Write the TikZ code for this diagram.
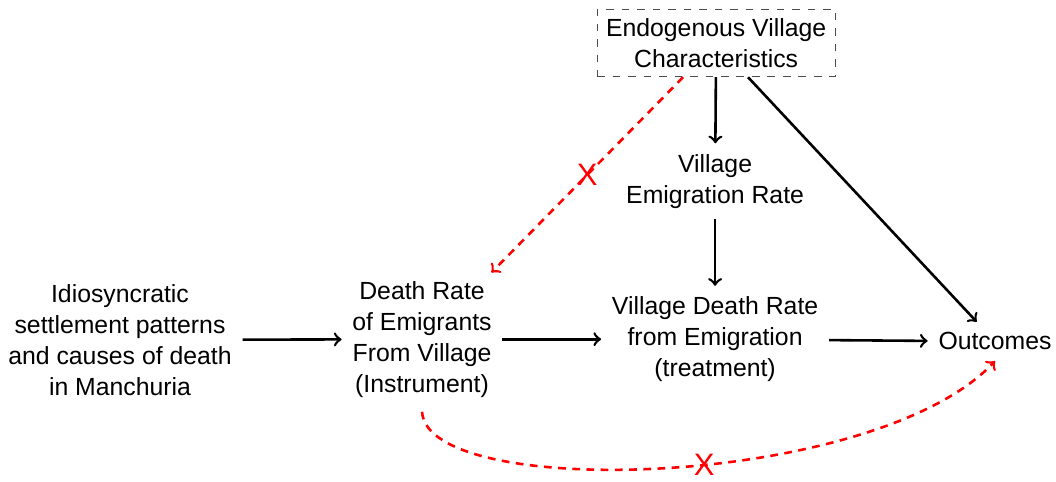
\documentclass[tikz,border=0pt]{standalone}
\usepackage{fontspec}
\setmainfont{Liberation Sans}
\begin{document}
\begin{tikzpicture}[
    var/.style={align=center, inner sep=4pt, font=\fontsize{9.6pt}{12pt}\selectfont},
    confound/.style={var, draw=black!70, dashed, inner sep=3.5pt},
    causal/.style={->, line width=1pt},
    blocked/.style={->, line width=1pt, red, dash pattern=on 3pt off 2.5pt},
    cross/.style={text=red, font=\large, inner sep=0pt}
]
    \useasboundingbox (0,0) rectangle (14.37,6.546);
    \node[var] (idio) at (1.633,1.92) {Idiosyncratic\\settlement patterns\\and causes of death\\in Manchuria};
    \node[var] (inst) at (5.743,1.93) {Death Rate\\of Emigrants\\From Village\\(Instrument)};
    \node[var] (treat) at (9.731,1.93) {Village Death Rate\\from Emigration\\(treatment)};
    \node[var] (outc) at (13.54,1.90) {Outcomes};
    \node[var] (emig) at (9.731,4.08) {Village\\Emigration Rate};
    \node[confound] (endo) at (9.745,5.96) {Endogenous Village\\Characteristics};

    \draw[causal] (idio) -- (inst);
    \draw[causal] (inst) -- (treat);
    \draw[causal] (treat) -- (outc);
    \draw[causal] (endo) -- (emig);
    \draw[causal] (emig) -- (treat);
    \draw[causal] (endo) -- (outc);

    \draw[blocked] ([xshift=-0.45cm]endo.south) -- ([xshift=-0.15cm,yshift=-0.03cm]inst.north east) node[cross, midway] {X};
    \draw[blocked] ([yshift=-0.05cm]inst.south) .. controls +(0.07,-1.22) and +(-1.63,-1.74) .. (outc.south) node[cross, pos=0.55] {X};
\end{tikzpicture}
\end{document}
